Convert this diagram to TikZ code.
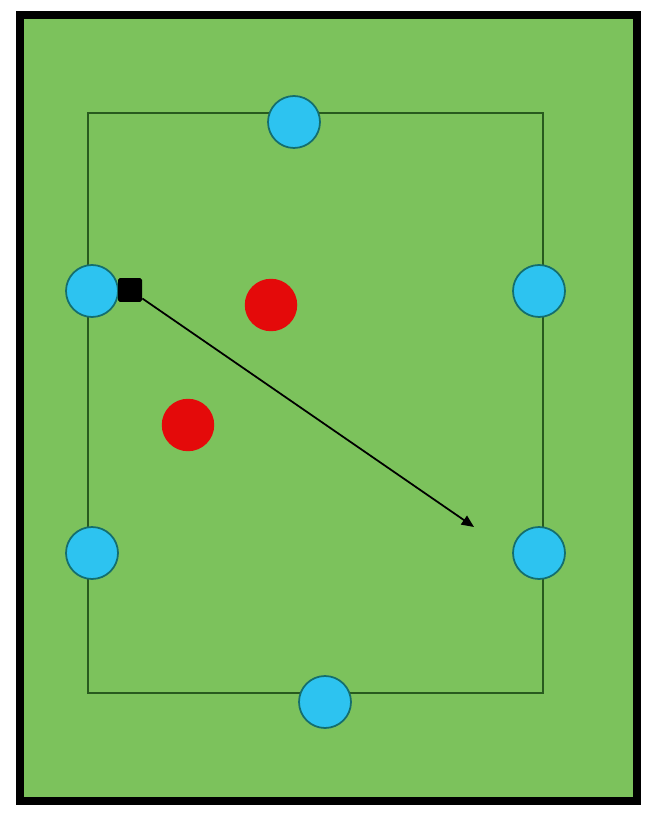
\documentclass[tikz,border=0pt]{standalone}
\usepackage{tikz}
\usetikzlibrary{arrows.meta}
\definecolor{pitch}{RGB}{124,194,92}
\definecolor{lines}{RGB}{40,90,30}
\definecolor{cone}{RGB}{45,195,240}
\definecolor{cones}{RGB}{20,110,110}
\definecolor{redp}{RGB}{228,10,10}

\begin{document}
\begin{tikzpicture}[x=0.02cm, y=-0.02cm]
\useasboundingbox (0,0) rectangle (662,813);
% Field
\draw[line width=5pt, fill=pitch] (20,15) rectangle (637,801);
\draw[lines, line width=1.4pt] (88,113) rectangle (543,693);

% Blue players
\node[circle, draw=cones, fill=cone, line width=1pt, minimum size=1.04cm] (top) at (294,122) {};
\node[circle, draw=cones, fill=cone, line width=1pt, minimum size=1.04cm] (leftup) at (92,291) {};
\node[circle, draw=cones, fill=cone, line width=1pt, minimum size=1.04cm] (rightup) at (539,291) {};
\node[circle, draw=cones, fill=cone, line width=1pt, minimum size=1.04cm] (leftdown) at (92,553) {};
\node[circle, draw=cones, fill=cone, line width=1pt, minimum size=1.04cm] (rightdown) at (539,553) {};
\node[circle, draw=cones, fill=cone, line width=1pt, minimum size=1.04cm] (bottom) at (325,702) {};

% Red players
\node[circle, fill=redp, minimum size=1.05cm] (redone) at (271,305) {};
\node[circle, fill=redp, minimum size=1.05cm] (redtwo) at (188,425) {};

% Ball and pass
\node[rectangle, fill=black, rounded corners=1pt, minimum size=0.48cm, inner sep=0pt] (ball) at (130,290) {};
\coordinate (target) at (474,527);
\draw[-{Triangle[length=7pt,width=6pt]}, line width=1pt] (ball) -- (target);

\end{tikzpicture}
\end{document}
